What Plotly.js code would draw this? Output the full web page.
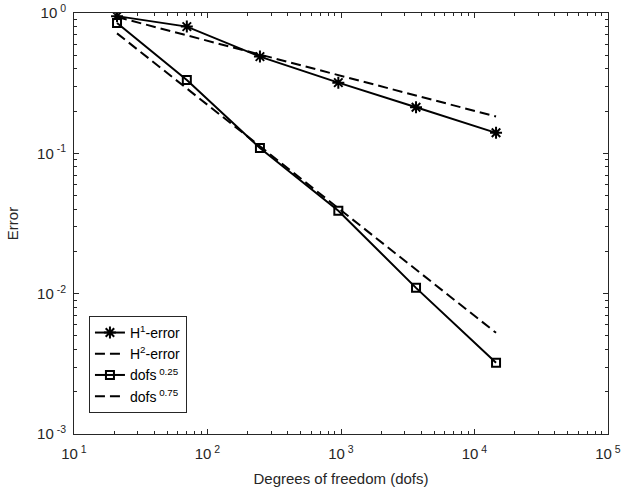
<!DOCTYPE html>
<html>
<head>
<meta charset="utf-8">
<script src="https://cdn.plot.ly/plotly-3.0.1.min.js"></script>
<style>html,body{margin:0;padding:0;background:#fff;}#chart{width:621px;height:496px;}</style>
</head>
<body>
<div id="chart"></div>
<script>
const dofs = [21, 70, 247, 955, 3648, 14500];
const h1Error = [0.95, 0.80, 0.489, 0.319, 0.213, 0.140];
const h2Ref = [0.936, 0.693, 0.505, 0.360, 0.258, 0.183];
const l2Error = [0.85, 0.333, 0.109, 0.039, 0.0110, 0.00322];
const l2Ref = [0.716, 0.290, 0.113, 0.041, 0.0150, 0.00526];
const seriesNames = ['H<sup>1</sup>-error', 'H<sup>2</sup>-error', 'dofs<sup> 0.25</sup>', 'dofs<sup> 0.75</sup>'];
const xTickVals = [10, 100, 1000, 10000, 100000];
const xTickText = ['10<sup> 1</sup>', '10<sup> 2</sup>', '10<sup> 3</sup>', '10<sup> 4</sup>', '10<sup> 5</sup>'];
const yTickVals = [0.001, 0.01, 0.1, 1];
const yTickText = ['10<sup> -3</sup>', '10<sup> -2</sup>', '10<sup> -1</sup>', '10<sup> 0</sup>'];

function minorVals(lo, hi) {
  const v = [];
  for (let e = lo; e < hi; e++) {
    for (let m = 2; m <= 9; m++) v.push(m * Math.pow(10, e));
  }
  return v;
}

const black = '#000000';
const fam = 'Liberation Sans, Arial, sans-serif';
const traces = [
  {x: dofs, y: h1Error, name: seriesNames[0], mode: 'lines+markers',
   line: {color: black, width: 2},
   marker: {symbol: 'asterisk-open', size: 10, line: {color: black, width: 2}}},
  {x: dofs, y: h2Ref, name: seriesNames[1], mode: 'lines',
   line: {color: black, width: 2, dash: '10px,5px'}},
  {x: dofs, y: l2Error, name: seriesNames[2], mode: 'lines+markers',
   line: {color: black, width: 2},
   marker: {symbol: 'square-open', size: 8, color: black, line: {color: black, width: 2}}},
  {x: dofs, y: l2Ref, name: seriesNames[3], mode: 'lines',
   line: {color: black, width: 2, dash: '10px,5px'}}
];

const axisCommon = {
  type: 'log',
  showgrid: false,
  zeroline: false,
  showline: true,
  linecolor: '#262626',
  linewidth: 1,
  mirror: 'ticks',
  ticks: 'inside',
  ticklen: 5,
  tickcolor: '#262626',
  tickwidth: 1,
  tickfont: {family: fam, size: 15, color: '#262626'},
  tickmode: 'array'
};

const layout = {
  width: 621, height: 496,
  margin: {l: 74, r: 13, t: 13, b: 62},
  paper_bgcolor: '#ffffff', plot_bgcolor: '#ffffff',
  font: {family: fam, color: '#262626'},
  showlegend: true,
  xaxis: Object.assign({}, axisCommon, {
    range: [1, 5],
    tickvals: xTickVals, ticktext: xTickText,
    ticklabelstandoff: 6,
    minor: {tickmode: 'array', tickvals: minorVals(1, 5), ticks: 'inside', ticklen: 3, tickcolor: '#262626', tickwidth: 1},
    title: {text: 'Degrees of freedom (dofs)', font: {family: fam, size: 15, color: '#262626'}, standoff: 12}
  }),
  yaxis: Object.assign({}, axisCommon, {
    range: [-3, 0],
    tickvals: yTickVals, ticktext: yTickText,
    ticklabelstandoff: 4,
    minor: {tickmode: 'array', tickvals: minorVals(-3, 0), ticks: 'inside', ticklen: 3, tickcolor: '#262626', tickwidth: 1},
    title: {text: 'Error', font: {family: fam, size: 15, color: '#262626'}, standoff: 14}
  }),
  legend: {
    x: 0.028, y: 0.05, xanchor: 'left', yanchor: 'bottom',
    bgcolor: '#ffffff', bordercolor: '#262626', borderwidth: 1,
    font: {family: fam, size: 14, color: '#000000'},
    tracegroupgap: 0, itemwidth: 30
  }
};

Plotly.newPlot('chart', traces, layout, {displayModeBar: false, staticPlot: true});
</script>
</body>
</html>
